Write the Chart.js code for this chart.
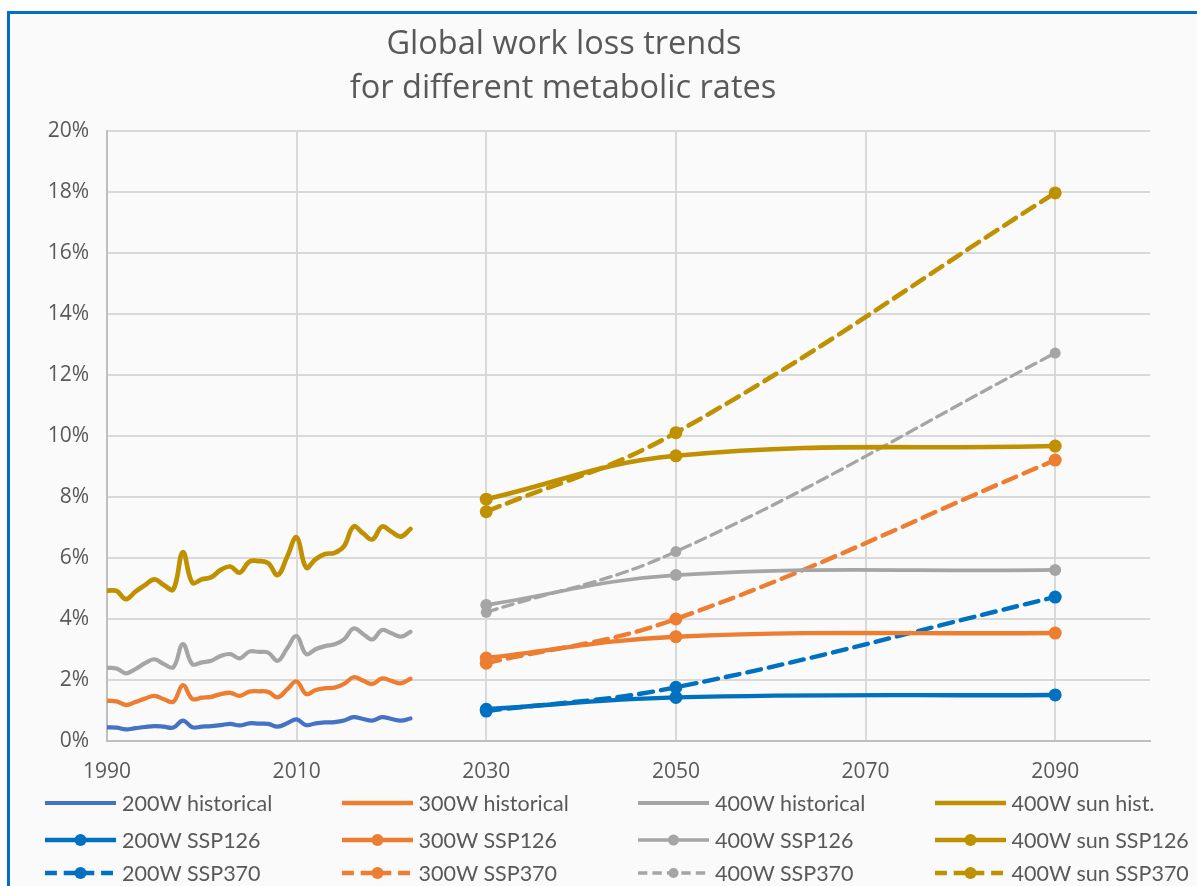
<!DOCTYPE html>
<html>
<head>
<meta charset="utf-8">
<script src="https://cdn.jsdelivr.net/npm/chart.js@4.4.1/dist/chart.umd.min.js"></script>
<style>
  html, body { margin: 0; padding: 0; background: #ffffff; width: 1197px; height: 886px; overflow: hidden; }
  #frame {
    position: absolute; left: 7px; top: 11px; width: 1250px; height: 950px;
    border-left: 3px solid #0070C0; border-top: 3px solid #0070C0; background: #FAFAFA;
  }
  #chart { position: absolute; left: 0; top: 0; }
  #legend { position: absolute; left: 0; top: 0; width: 1197px; height: 886px; pointer-events: none; }
  .item { position: absolute; display: flex; align-items: center; height: 30px; margin-top: -15px; }
  .item svg { display: block; }
  .item span { margin-left: 6px; font-family: "Lato", "Open Sans", sans-serif; font-size: 21.5px; color: #595959; white-space: nowrap; }
</style>
</head>
<body>
<div id="frame"></div>
<canvas id="chart" width="1197" height="886"></canvas>
<div id="legend"></div>
<script>
// Yearly historical estimates, 1990-2022 (% of work hours lost)
const histYears = [1990,1991,1992,1993,1994,1995,1996,1997,1998,1999,2000,2001,2002,2003,2004,2005,2006,2007,2008,2009,2010,2011,2012,2013,2014,2015,2016,2017,2018,2019,2020,2021,2022];
const hist200W = [0.45,0.44,0.38,0.42,0.46,0.49,0.47,0.44,0.67,0.45,0.47,0.49,0.52,0.56,0.51,0.58,0.57,0.56,0.47,0.58,0.71,0.52,0.58,0.61,0.62,0.67,0.78,0.72,0.67,0.78,0.72,0.67,0.74];
const hist300W = [1.32,1.30,1.18,1.28,1.39,1.48,1.37,1.29,1.83,1.38,1.42,1.45,1.54,1.58,1.48,1.62,1.63,1.61,1.43,1.69,1.95,1.54,1.67,1.73,1.75,1.87,2.09,1.98,1.87,2.05,1.97,1.89,2.04];
const hist400W = [2.40,2.38,2.22,2.36,2.55,2.68,2.52,2.42,3.18,2.52,2.58,2.63,2.79,2.85,2.71,2.93,2.92,2.90,2.63,3.04,3.44,2.85,3.01,3.11,3.17,3.33,3.69,3.51,3.33,3.64,3.53,3.42,3.58];
const hist400Wsun = [4.93,4.92,4.65,4.90,5.11,5.30,5.11,4.97,6.19,5.19,5.30,5.37,5.61,5.72,5.52,5.88,5.90,5.83,5.44,6.04,6.68,5.69,5.96,6.13,6.17,6.39,7.03,6.81,6.61,7.03,6.86,6.70,6.95];

// Scenario projections
const projYears = [2030, 2050, 2090];
const ssp126_200W = [1.04, 1.43, 1.51];
const ssp126_300W = [2.72, 3.42, 3.54];
const ssp126_400W = [4.46, 5.44, 5.61];
const ssp126_400Wsun = [7.93, 9.35, 9.67];
const ssp370_200W = [0.98, 1.76, 4.72];
const ssp370_300W = [2.55, 4.00, 9.21];
const ssp370_400W = [4.22, 6.21, 12.72];
const ssp370_400Wsun = [7.52, 10.11, 17.97];

// Axis ticks
const xTickYears = [1990, 2010, 2030, 2050, 2070, 2090];
const yTickValues = [0, 2, 4, 6, 8, 10, 12, 14, 16, 18, 20];

const titleLines = ['Global work loss trends', 'for different metabolic rates'];

const C = { blueHist: '#4472C4', blue: '#0070C0', orange: '#ED7D31', gray: '#A5A5A5', gold: '#BF9000' };

const pts = (xs, ys) => xs.map((x, i) => ({ x, y: ys[i] }));

function hist(label, ys, color, width) {
  return { label, data: pts(histYears, ys), borderColor: color, backgroundColor: color,
    borderWidth: width, pointRadius: 0, tension: 0.4, fill: false };
}
function proj(label, ys, color, width, dash, radius) {
  return { label, data: pts(projYears, ys), borderColor: color, backgroundColor: color,
    borderWidth: width, borderDash: dash, pointRadius: radius, pointBorderWidth: 0,
    pointBackgroundColor: color, tension: 0.4, fill: false };
}

const datasets = [
  hist('200W historical', hist200W, C.blueHist, 4.2),
  hist('300W historical', hist300W, C.orange, 4.3),
  hist('400W historical', hist400W, C.gray, 4.2),
  hist('400W sun hist.', hist400Wsun, C.gold, 4.7),
  proj('200W SSP126', ssp126_200W, C.blue, 4.4, [], 6.5),
  proj('300W SSP126', ssp126_300W, C.orange, 4.4, [], 6.5),
  proj('400W SSP126', ssp126_400W, C.gray, 3.7, [], 6),
  proj('400W sun SSP126', ssp126_400Wsun, C.gold, 4.6, [], 6.5),
  proj('200W SSP370', ssp370_200W, C.blue, 4.4, [14, 8], 6.5),
  proj('300W SSP370', ssp370_300W, C.orange, 4.4, [14, 8], 6.5),
  proj('400W SSP370', ssp370_400W, C.gray, 3.3, [11, 6], 5.5),
  proj('400W sun SSP370', ssp370_400Wsun, C.gold, 4.6, [14, 8], 6.5)
];

const tickFont = { family: '"Open Sans", sans-serif', size: 21 };

const titlePlugin = {
  id: 'twoLineTitle',
  afterDraw(chart) {
    const ctx = chart.ctx;
    ctx.save();
    ctx.fillStyle = '#595959';
    ctx.font = '32.5px "Open Sans", sans-serif';
    ctx.textAlign = 'center';
    ctx.textBaseline = 'alphabetic';
    ctx.fillText(titleLines[0], 564, 54);
    ctx.fillText(titleLines[1], 563, 98);
    ctx.restore();
  }
};

const chart = new Chart(document.getElementById('chart'), {
  type: 'line',
  data: { datasets },
  plugins: [titlePlugin],
  options: {
    responsive: false,
    animation: false,
    layout: { padding: { left: 47, top: 131, right: 47, bottom: 105 } },
    plugins: { legend: { display: false }, title: { display: false }, tooltip: { enabled: false } },
    elements: { line: { capBezierPoints: true, borderCapStyle: 'round', borderJoinStyle: 'round' } },
    scales: {
      x: {
        type: 'linear', min: 1990, max: 2100,
        afterFit: s => { s.height = 40; },
        afterBuildTicks: s => { s.ticks = xTickYears.map(v => ({ value: v })); },
        grid: { color: '#D9D9D9', lineWidth: 2, drawTicks: false },
        border: { color: '#BFBFBF', width: 2 },
        ticks: { padding: 18, color: '#595959', font: tickFont, maxRotation: 0, callback: v => String(v) }
      },
      y: {
        min: 0, max: 20,
        afterFit: s => { s.width = 60; },
        afterBuildTicks: s => { s.ticks = yTickValues.map(v => ({ value: v })); },
        grid: { color: '#D9D9D9', lineWidth: 2, drawTicks: false },
        border: { color: '#BFBFBF', width: 2 },
        ticks: { padding: 18, color: '#595959', font: tickFont, callback: v => v + '%' }
      }
    }
  }
});

// Legend: 4 columns x 3 rows under the plot
const legendColStart = 45, legendColStep = 296.5;
const legendRows = [803, 840, 873];
const legendEl = document.getElementById('legend');
datasets.forEach((ds, i) => {
  const col = i % 4, row = Math.floor(i / 4);
  const item = document.createElement('div');
  item.className = 'item';
  item.style.left = (legendColStart + col * legendColStep) + 'px';
  item.style.top = legendRows[row] + 'px';
  const w = 71, h = 16;
  const dash = ds.borderDash && ds.borderDash.length ? `stroke-dasharray="${ds.borderDash.map(d => d * 0.85).join(' ')}"` : '';
  let svg = `<svg width="${w}" height="${h}" viewBox="0 0 ${w} ${h}">` +
    `<line x1="0" y1="${h / 2}" x2="${w}" y2="${h / 2}" stroke="${ds.borderColor}" stroke-width="${ds.borderWidth}" ${dash}/>`;
  if (ds.pointRadius > 0) svg += `<circle cx="${w / 2}" cy="${h / 2}" r="${ds.pointRadius - 0.5}" fill="${ds.borderColor}"/>`;
  svg += '</svg>';
  item.innerHTML = svg + `<span>${ds.label}</span>`;
  legendEl.appendChild(item);
});
</script>
</body>
</html>
